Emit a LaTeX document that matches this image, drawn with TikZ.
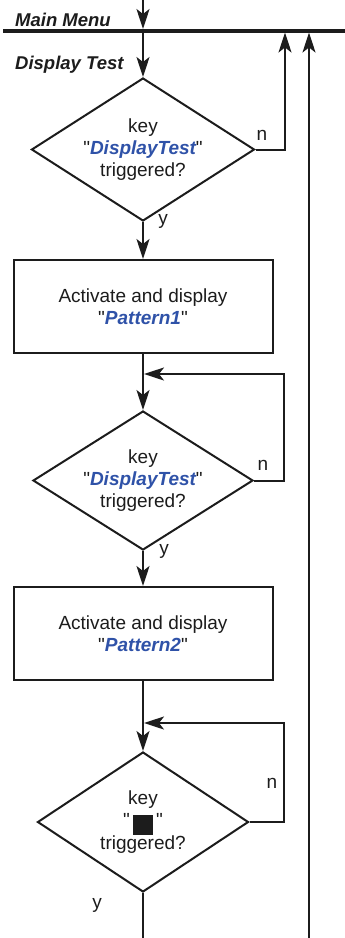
\documentclass[tikz,border=0pt]{standalone}
\usepackage{fontspec}
\setmainfont{Liberation Sans}
% same face without the TeX quote mapping, for straight double quotes
\newfontfamily\straightfont{Liberation Sans}
\usetikzlibrary{shapes.geometric,arrows.meta}
\definecolor{keyblue}{RGB}{47,82,168}
\definecolor{ink}{RGB}{28,28,28}
\tikzset{
  flow/.style={line width=2pt, draw=ink},
  arr/.style={flow, -{Stealth[length=20pt,width=13pt,inset=5pt]}},
  decision/.style={diamond, draw=ink, line width=2pt, inner sep=0pt, align=center,
    shape aspect=1.56, font=\fontsize{19}{22}\selectfont, text=ink},
  action/.style={rectangle, draw=ink, line width=2pt, inner sep=0pt, align=center,
    minimum width=259pt, minimum height=93pt, font=\fontsize{19}{22}\selectfont, text=ink},
  heading/.style={font=\fontsize{18.5}{20}\selectfont\bfseries\itshape, text=ink, inner sep=0pt},
  branch/.style={font=\fontsize{19}{20}\selectfont, text=ink, inner sep=0pt},
}
\newcommand{\qmark}{{\straightfont"}}
\newcommand{\keyname}[1]{\qmark\textcolor{keyblue}{\bfseries\itshape #1}\qmark}
\begin{document}
\begin{tikzpicture}[x=1pt, y=-1pt]
\useasboundingbox (0,0) rectangle (345,938);

% main menu bus line
\coordinate (mmL) at (3,31);
\coordinate (mmR) at (345,31);
\draw[line width=3.5pt, draw=ink] (mmL) -- (mmR);
\node[heading, anchor=base west] (mmtext) at (15,26) {Main Menu};
\node[heading, anchor=base west] (dttext) at (15,69) {Display Test};

\coordinate (top) at (143,0);
\coordinate (mmIn) at (143,29);
\coordinate (mmOut) at (143,31);
\coordinate (ret1) at (285,32.5);
\coordinate (ret2) at (309,32.5);
\coordinate (ret2s) at (309,938);
\coordinate (bottom) at (143,938);

% decisions and actions
\node[decision, minimum width=223pt, minimum height=143pt] (d1) at (143,149.5)
  {key\\\keyname{DisplayTest}\\triggered?};
\node[action] (b1) at (143,306.5) {Activate and display\\\keyname{Pattern1}};
\node[decision, minimum width=220pt, minimum height=139pt] (d2) at (143,480.5)
  {key\\\keyname{DisplayTest}\\triggered?};
\node[action] (b2) at (143,633.5) {Activate and display\\\keyname{Pattern2}};
\node[decision, shape aspect=1.5, minimum width=211pt, minimum height=140pt] (d3) at (143,822)
  {key\\\qmark\,\rule[-9pt]{20pt}{20pt}\,\qmark\\triggered?};

\coordinate (j2) at (144,374);
\coordinate (c2) at (284,374);
\coordinate (j3) at (144,723);
\coordinate (c3) at (284,723);

% main flow
\draw[arr] (top) -- (mmIn);
\draw[arr] (mmOut) -- (d1.north);
\draw[arr] (d1.south) -- (b1.north);
\draw[arr] (b1.south) -- (d2.north);
\draw[arr] (d2.south) -- (b2.north);
\draw[arr] (b2.south) -- (d3.north);
\draw[flow] (d3.south) -- (bottom);

% "no" loops
\draw[arr] (d1.east) -| (ret1);
\draw[arr] (d2.east) -| (c2) -- (j2);
\draw[arr] (d3.east) -| (c3) -- (j3);
\draw[arr] (ret2s) -- (ret2);

% branch labels
\node[branch] (n1) at (262,135) {n};
\node[branch] (n2) at (263,465) {n};
\node[branch] (n3) at (272,783) {n};
\node[branch, anchor=base] (y1) at (163,224) {y};
\node[branch, anchor=base] (y2) at (164,554) {y};
\node[branch, anchor=base] (y3) at (97,908) {y};
\end{tikzpicture}
\end{document}
